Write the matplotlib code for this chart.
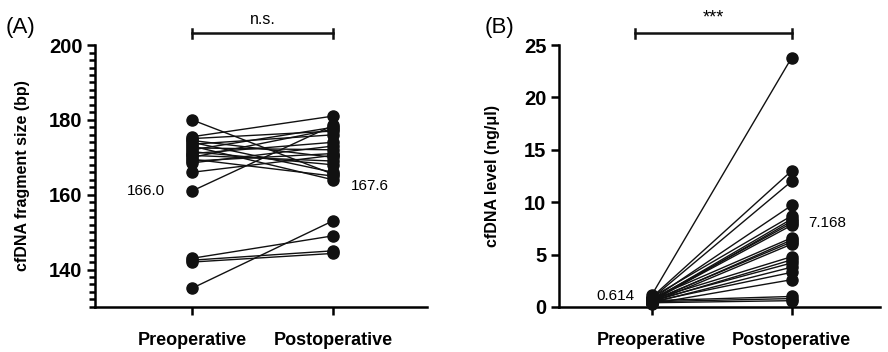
import matplotlib
matplotlib.use("Agg")
import matplotlib.pyplot as plt
from matplotlib.ticker import MultipleLocator

plt.rcParams["font.family"] = ["Liberation Sans", "DejaVu Sans"]

GROUPS = ["Preoperative", "Postoperative"]

# (A) fragment size, paired per patient
size_pre = [180.0, 175.5, 175.0, 174.5, 174.0, 173.5, 173.0, 172.5, 172.0, 171.5, 171.0,
            170.5, 170.0, 169.5, 169.0, 168.5, 166.0, 161.0, 143.0, 142.5, 142.0, 135.0]
size_post = [165.5, 181.0, 177.0, 170.0, 166.0, 176.0, 164.0, 172.0, 178.0, 168.0, 174.0,
             169.0, 177.5, 165.0, 171.0, 173.0, 170.5, 178.5, 149.0, 145.0, 144.3, 153.0]
size_means = ["166.0", "167.6"]

# (B) cfDNA level, paired per patient
level_pre = [1.1, 0.9, 0.8, 0.7, 0.9, 0.6, 0.5, 0.7, 0.6, 0.8, 0.5, 0.6, 0.4, 0.7,
             0.5, 0.6, 0.4, 0.5, 0.3, 0.6, 0.5, 0.4]
level_post = [23.8, 13.0, 12.0, 9.7, 8.7, 8.4, 8.2, 8.0, 7.8, 6.6, 6.4, 6.2, 6.0, 4.8,
              4.5, 4.2, 3.8, 3.3, 2.6, 1.0, 0.8, 0.6]
level_means = ["0.614", "7.168"]

fig = plt.figure(figsize=(8.88, 3.52), dpi=100)
axA = fig.add_axes([0.107, 0.128, 0.374, 0.744])
axB = fig.add_axes([0.6295, 0.128, 0.3615, 0.744])


def paired(ax, pre, post):
    for a, b in zip(pre, post):
        ax.plot([0, 1], [a, b], color="#111111", lw=1.0, marker="o", ms=8,
                mfc="#111111", mec="#111111", zorder=3, clip_on=False)
    for s in ["top", "right"]:
        ax.spines[s].set_visible(False)
    for s in ["left", "bottom"]:
        ax.spines[s].set_linewidth(1.8)
    ax.set_xticks([0, 1])
    ax.set_xticklabels(GROUPS, fontsize=13, fontweight="bold")
    ax.tick_params(axis="x", length=6, width=1.8, pad=12)
    ax.tick_params(axis="y", which="major", length=6, width=1.8, labelsize=14.5, pad=3)


def bracket(ax, x0, x1, text, size):
    tr = ax.get_xaxis_transform()
    y = 1.045
    ax.plot([x0, x1], [y, y], color="#111111", lw=1.8, transform=tr, clip_on=False)
    for x in (x0, x1):
        ax.plot([x, x], [y - 0.017, y + 0.017], color="#111111", lw=1.8,
                transform=tr, clip_on=False)
    ax.text((x0 + x1) / 2, y + 0.025, text, transform=tr, ha="center", va="bottom",
            fontsize=size)


# --- (A) ---
paired(axA, size_pre, size_post)
axA.set_xlim(-0.69, 1.67)
axA.set_ylim(130, 200)
axA.set_yticks([140, 160, 180, 200])
axA.yaxis.set_minor_locator(MultipleLocator(2))
axA.tick_params(axis="y", which="minor", length=4, width=1.8)
for lab in axA.get_yticklabels():
    lab.set_fontweight("bold")
axA.set_ylabel("cfDNA fragment size (bp)", fontsize=11.5, fontweight="bold", labelpad=14)
axA.text(-0.19, 161.0, size_means[0], ha="right", va="center", fontsize=11)
axA.text(1.13, 162.3, size_means[1], ha="left", va="center", fontsize=11)
bracket(axA, 0, 1, "n.s.", 11.5)
fig.text(0.006, 0.905, "(A)", fontsize=16)

# --- (B) ---
paired(axB, level_pre, level_post)
axB.set_xlim(-0.66, 1.63)
axB.set_ylim(0, 25)
axB.set_yticks([0, 5, 10, 15, 20, 25])
for lab in axB.get_yticklabels():
    lab.set_fontweight("bold")
axB.set_ylabel("cfDNA level (ng/μl)", fontsize=11.5, fontweight="bold", labelpad=17)
axB.text(-0.12, 1.0, level_means[0], ha="right", va="center", fontsize=11)
axB.text(1.12, 8.0, level_means[1], ha="left", va="center", fontsize=11)
bracket(axB, -0.12, 1, "***", 13)
fig.text(0.546, 0.905, "(B)", fontsize=16)

fig.savefig("out.png", dpi=100)
